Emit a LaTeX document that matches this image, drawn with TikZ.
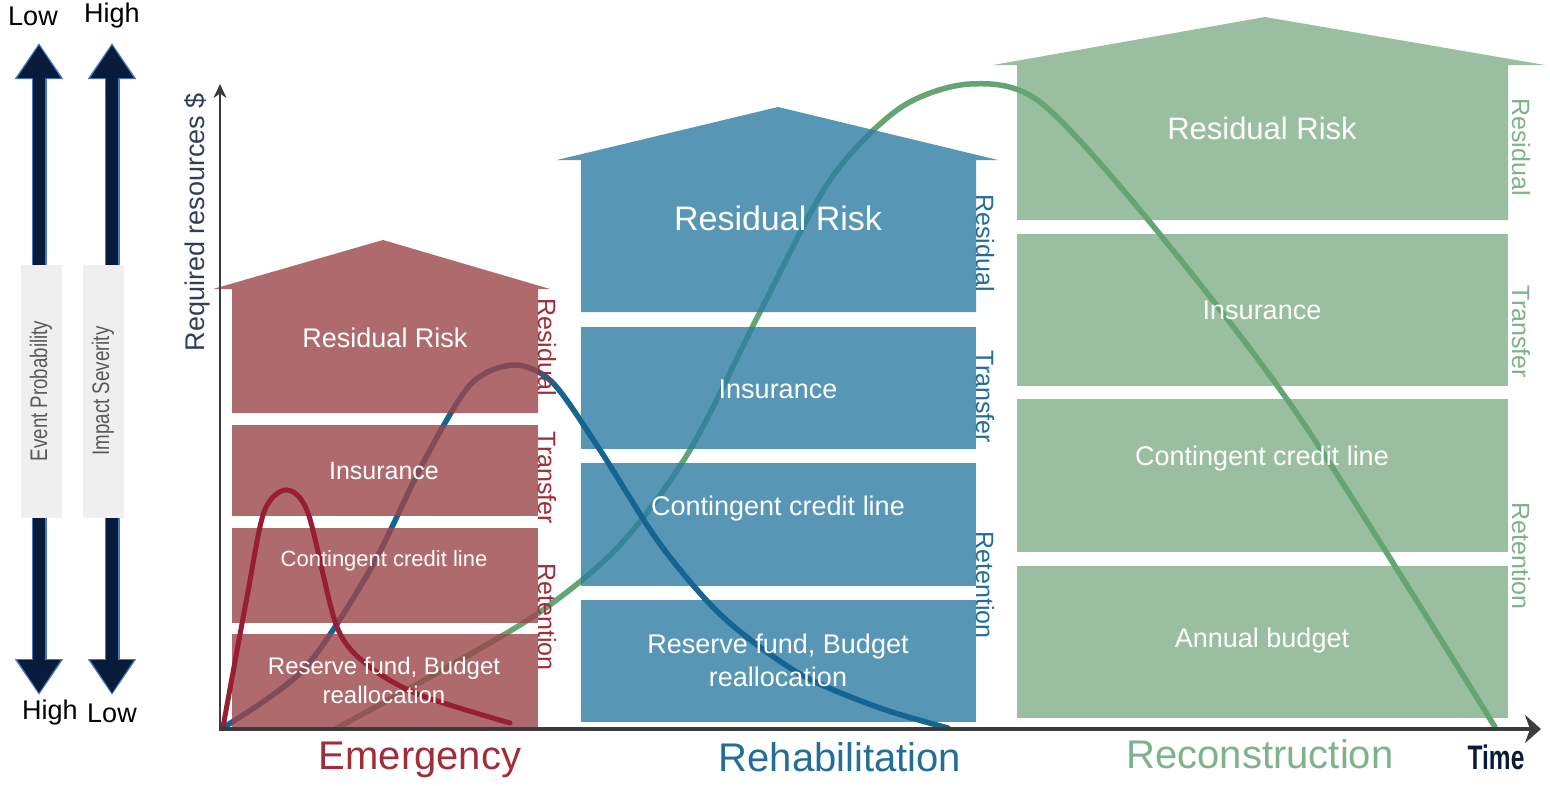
\documentclass[tikz,border=0pt]{standalone}
\usepackage{fontspec}
\setmainfont{Liberation Sans}
\usetikzlibrary{arrows.meta}
\definecolor{emergred}{RGB}{156,69,74}
\definecolor{rehabblue}{RGB}{46,126,163}
\definecolor{reconstgreen}{RGB}{153,191,160}
\definecolor{redcurve}{RGB}{150,32,50}
\definecolor{bluecurve}{RGB}{22,100,145}
\definecolor{greencurve}{RGB}{100,165,115}
\definecolor{redtext}{RGB}{160,45,58}
\definecolor{bluetext}{RGB}{35,110,150}
\definecolor{greentext}{RGB}{125,178,138}
\definecolor{navyarrow}{RGB}{8,28,58}
\definecolor{arrowglow}{RGB}{70,120,190}
\definecolor{axisgray}{RGB}{60,60,60}
\definecolor{axislabel}{RGB}{50,62,88}
\definecolor{captionbox}{RGB}{239,239,239}

\tikzset{
    scalearrowglow/.style={line width=15pt, arrowglow,
        {Triangle[width=46pt,length=36pt]}-{Triangle[width=46pt,length=36pt]}},
    scalearrow/.style={line width=12pt, navyarrow, shorten >=2pt, shorten <=2pt,
        {Triangle[width=41pt,length=33pt]}-{Triangle[width=41pt,length=33pt]}},
    capbox/.style={fill=captionbox, rotate=90, minimum width=253pt, minimum height=41pt,
        inner sep=0pt, text=black!65, font=\fontsize{24}{28}\selectfont},
    endlabel/.style={font=\fontsize{27}{32}\selectfont},
    house/.style={fill opacity=.8},
    blocklabel/.style={text=white, align=center, font=\fontsize{27}{33}\selectfont},
    sidelabel/.style={rotate=-90, font=\fontsize{25}{30}\selectfont},
    phaselabel/.style={font=\fontsize{40}{48}\selectfont},
    riskcurve/.style={line width=5.5pt, line cap=round}
}

\begin{document}
\begin{tikzpicture}[x=1pt, y=-1pt]
        \useasboundingbox[fill=white] (0,0) rectangle (1550,785);

        % probability / severity scales
        \node[endlabel] (lowprob) at (33,16) {Low};
        \node[endlabel] (highsev) at (112,16) {High};
        \node[endlabel] (highprob) at (50,713) {High};
        \node[endlabel] (lowsev) at (112,713) {Low};
        \coordinate (probtop) at (39,43);
        \coordinate (probbot) at (39,695);
        \coordinate (sevtop) at (112,43);
        \coordinate (sevbot) at (112,695);
        \draw[scalearrowglow] (probtop) -- (probbot);
        \draw[scalearrowglow] (sevtop) -- (sevbot);
        \draw[scalearrow] (probtop) -- (probbot);
        \draw[scalearrow] (sevtop) -- (sevbot);
        \node[capbox] (probbox) at (41,391) {\scalebox{0.78}[1]{Event Probability}};
        \node[capbox] (sevbox) at (103,391) {\scalebox{0.78}[1]{Impact Severity}};

        % reconstruction house
        \fill[reconstgreen] (993,65) -- (1265,17) -- (1545,65) -- (1508,65) -- (1508,220)
            -- (1017,220) -- (1017,65) -- cycle;
        \fill[reconstgreen] (1017,234) rectangle (1508,386);
        \fill[reconstgreen] (1017,399) rectangle (1508,552);
        \fill[reconstgreen] (1017,566) rectangle (1508,718);
        \draw[riskcurve, greencurve] plot[smooth, tension=0.5] coordinates {
            (337,728) (437,673) (540,612) (620,545) (690,450) (760,312) (830,180)
            (900,108) (970,84) (1040,102) (1149,221) (1300,418) (1495,727)};

        % rehabilitation house
        \fill[rehabblue, house] (557,160) -- (778,107) -- (998,160) -- (976,160) -- (976,312)
            -- (581,312) -- (581,160) -- cycle;
        \fill[rehabblue, house] (581,327) rectangle (976,449);
        \fill[rehabblue, house] (581,463) rectangle (976,586);
        \fill[rehabblue, house] (581,600) rectangle (976,722);
        \draw[riskcurve, bluecurve] plot[smooth, tension=0.5] coordinates {
            (224,727) (303,670) (370,570) (423,463) (470,385) (513,365) (552,382)
            (600,450) (660,544) (723,617) (800,674) (880,708) (948,728)};

        % emergency house
        \fill[emergred, house] (213,289) -- (383,240) -- (550,289) -- (538,289) -- (538,413)
            -- (232,413) -- (232,289) -- cycle;
        \fill[emergred, house] (232,425) rectangle (538,516);
        \fill[emergred, house] (232,528) rectangle (538,623);
        \fill[emergred, house] (232,634) rectangle (538,727);
        \draw[riskcurve, redcurve, line width=5pt] plot[smooth, tension=0.5] coordinates {
            (223,727) (247,597) (264,512) (286,490) (308,513) (337,627) (370,667)
            (420,695) (510,723)};

        % axes
        \coordinate (origin) at (220,729);
        \coordinate (ytip) at (220,84);
        \coordinate (xtip) at (1541,729);
        \draw[axisgray, line width=2.5pt, -{Stealth[length=14pt,width=13pt]}] (origin) -- (ytip);
        \draw[axisgray, line width=4pt, -{Stealth[length=16pt,width=28pt,inset=5pt]}]
            ([xshift=-1.25pt]origin) -- (xtip);
        \node[rotate=90, text=axislabel, font=\fontsize{27}{32}\selectfont] (yname) at (197,222)
            {Required resources \$};
        \node[text=navyarrow, font=\bfseries\fontsize{34}{40}\selectfont] (xname) at (1496,757)
            {\scalebox{0.72}[1]{Time}};

        % block texts
        \node[blocklabel] (redresid) at (385,338) {Residual Risk};
        \node[blocklabel, font=\fontsize{25}{30}\selectfont] (redins) at (384,471) {Insurance};
        \node[blocklabel, font=\fontsize{22}{27}\selectfont] (redcredit) at (384,561) {Contingent credit line};
        \node[blocklabel, font=\fontsize{24}{29}\selectfont] (redreserve) at (384,680)
            {Reserve fund, Budget\\reallocation};
        \node[blocklabel, font=\fontsize{34}{40}\selectfont] (blueresid) at (778,218) {Residual Risk};
        \node[blocklabel] (blueins) at (778,389) {Insurance};
        \node[blocklabel] (bluecredit) at (778,509) {Contingent credit line};
        \node[blocklabel] (bluereserve) at (778,660) {Reserve fund, Budget\\reallocation};
        \node[blocklabel, font=\fontsize{31}{36}\selectfont] (greenresid) at (1262,128) {Residual Risk};
        \node[blocklabel] (greenins) at (1262,310) {Insurance};
        \node[blocklabel] (greencredit) at (1262,459) {Contingent credit line};
        \node[blocklabel] (greenbudget) at (1262,641) {Annual budget};

        % side labels
        \node[sidelabel, text=redtext] (redsideres) at (547,347) {Residual};
        \node[sidelabel, text=redtext] (redsidetra) at (547,478) {Transfer};
        \node[sidelabel, text=redtext] (redsideret) at (547,617) {Retention};
        \node[sidelabel, text=bluetext] (bluesideres) at (985,243) {Residual};
        \node[sidelabel, text=bluetext] (bluesidetra) at (985,397) {Transfer};
        \node[sidelabel, text=bluetext] (bluesideret) at (985,585) {Retention};
        \node[sidelabel, text=greentext] (greensideres) at (1521,147) {Residual};
        \node[sidelabel, text=greentext] (greensidetra) at (1521,332) {Transfer};
        \node[sidelabel, text=greentext] (greensideret) at (1521,556) {Retention};

        % phase names
        \node[phaselabel, text=redtext] (emergency) at (420,760) {Emergency};
        \node[phaselabel, text=bluetext] (rehab) at (840,757) {Rehabilitation};
        \node[phaselabel, text=greentext] (reconst) at (1260,754) {Reconstruction};
\end{tikzpicture}
\end{document}
